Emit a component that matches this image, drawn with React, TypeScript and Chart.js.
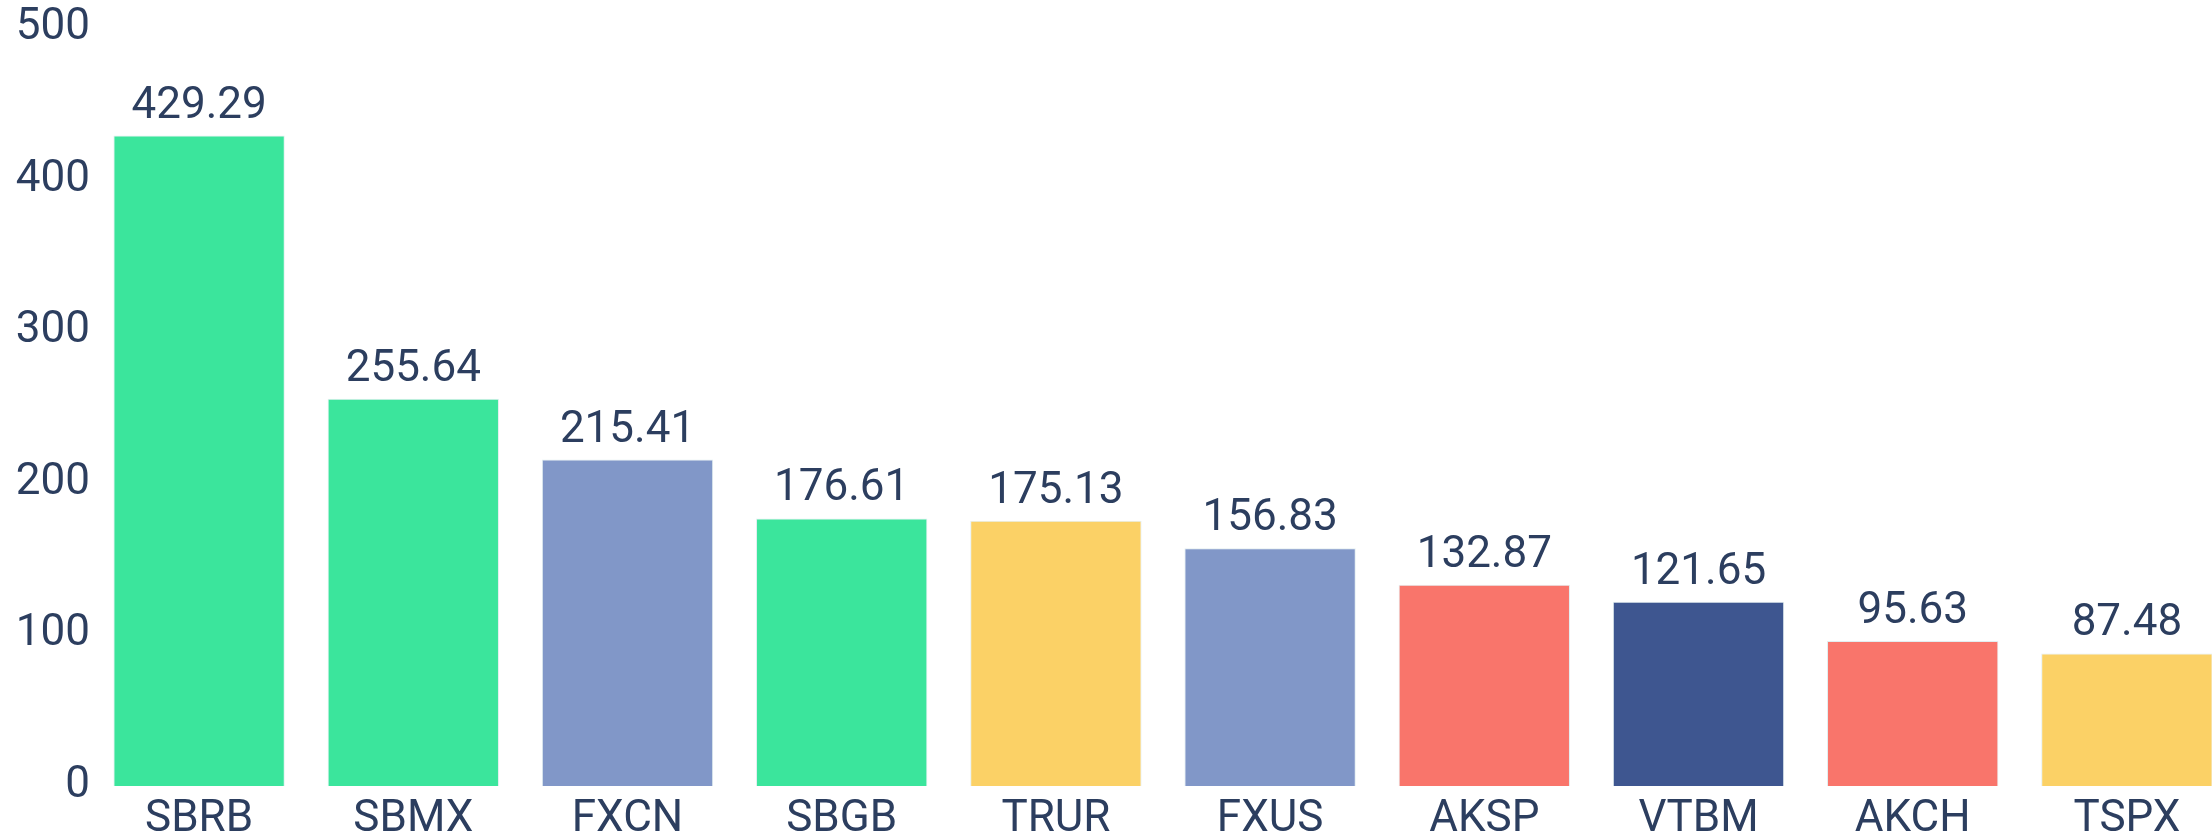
import React, { useEffect, useRef } from "react";
import { Chart, registerables } from "chart.js";

Chart.register(...registerables);

const categories = ["SBRB", "SBMX", "FXCN", "SBGB", "TRUR", "FXUS", "AKSP", "VTBM", "AKCH", "TSPX"];
const values = [429.29, 255.64, 215.41, 176.61, 175.13, 156.83, 132.87, 121.65, 95.63, 87.48];
const barColors = ["#3be59c", "#3be59c", "#8197c8", "#3be59c", "#fbd166", "#8197c8", "#f9756b", "#3e5690", "#f9756b", "#fbd166"];
const yTicks = [0, 100, 200, 300, 400, 500];

const TEXT = "#2c3e5f";
const FONT = "Roboto";

const valueLabels = {
  id: "valueLabels",
  afterDatasetsDraw(chart: any) {
    const ctx = chart.ctx;
    const meta = chart.getDatasetMeta(0);
    ctx.save();
    ctx.font = `44px ${FONT}`;
    ctx.fillStyle = TEXT;
    ctx.textAlign = "center";
    ctx.textBaseline = "alphabetic";
    meta.data.forEach((el: any, i: number) => {
      ctx.fillText(values[i].toFixed(2), el.x, el.y - 18);
    });
    ctx.restore();
  },
};

export default function App() {
  const ref = useRef<HTMLCanvasElement>(null);
  useEffect(() => {
    if (!ref.current) return;
    const chart = new Chart(ref.current, {
      type: "bar",
      data: {
        labels: categories,
        datasets: [
          {
            data: values,
            backgroundColor: barColors,
            borderColor: "#e2eef0",
            borderWidth: 1,
            barPercentage: 0.8,
            categoryPercentage: 1,
          },
        ],
      },
      options: {
        animation: false,
        responsive: false,
        layout: { padding: { top: 0, right: 0, left: 0, bottom: 0 } },
        plugins: { legend: { display: false }, tooltip: { enabled: false } },
        scales: {
          x: {
            afterFit: (s: any) => {
              s.height = 54;
            },
            grid: { display: false, drawTicks: false },
            border: { display: false },
            ticks: { color: TEXT, font: { family: FONT, size: 44 }, padding: 8, maxRotation: 0, autoSkip: false },
          },
          y: {
            min: 0,
            max: 500,
            afterFit: (s: any) => {
              s.width = 92;
            },
            afterBuildTicks: (s: any) => {
              s.ticks = yTicks.map((v) => ({ value: v }));
            },
            grid: { display: false, drawTicks: false },
            border: { display: false },
            ticks: { color: TEXT, font: { family: FONT, size: 44 }, padding: 2 },
          },
        },
      },
      plugins: [valueLabels],
    });
    return () => chart.destroy();
  }, []);
  return (
    <div style={{ position: "fixed", left: 0, top: 0, width: 2212, height: 840, overflow: "hidden", background: "#fff" }}>
      <canvas ref={ref} width={2234} height={840} style={{ position: "absolute", left: 0, top: 0, width: 2234, height: 840 }} />
    </div>
  );
}
